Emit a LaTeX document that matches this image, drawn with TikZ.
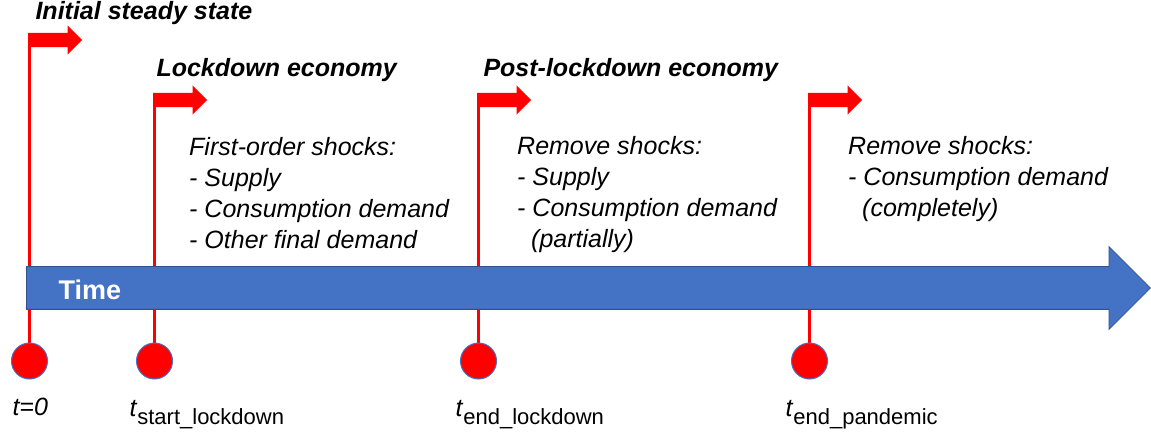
\documentclass[tikz,border=0pt]{standalone}
\usepackage{fontspec}
\setmainfont{Liberation Sans}
\usetikzlibrary{shapes.arrows,backgrounds}

\definecolor{timeblue}{HTML}{4472C4}
\definecolor{timeedge}{HTML}{2F528F}

\newcommand\tsub[1]{\textit{t}\raisebox{-8pt}{\fontsize{22}{22}\selectfont #1}}

\begin{document}
\begin{tikzpicture}[x=1pt,y=-1pt,font=\fontsize{25}{31}\selectfont]
  \useasboundingbox (0,0) rectangle (1151,438);

  % time axis
  \node[single arrow, fill=timeblue, draw=timeedge, line width=0.8pt,
        inner xsep=0pt, inner ysep=21pt, single arrow head extend=20pt,
        minimum height=1124pt, anchor=tail] (axis) at (26,288) {};
  \node[anchor=base west, text=white, font=\fontsize{27}{27}\selectfont\bfseries]
        (time) at (55,299) {Time};

  \begin{scope}[every node/.style={circle,fill=red,draw=timeblue,line width=1pt,
                                   minimum size=36pt,inner sep=0pt}]
    \node (t0) at (29.5,361) {};
    \node (t1) at (154.5,361) {};
    \node (t2) at (478.5,361) {};
    \node (t3) at (809.5,361) {};
  \end{scope}

  \begin{scope}[every node/.style={single arrow,fill=red,inner xsep=0pt,inner ysep=7pt,
                                   single arrow head extend=7.5pt,minimum height=54pt,
                                   anchor=tail}]
    \node (f0) at (28,40)  {};
    \node (f1) at (153,100) {};
    \node (f2) at (477,100) {};
    \node (f3) at (808,100) {};
  \end{scope}

  \begin{scope}[on background layer]
    \foreach \i in {0,...,3}
      \draw[red, line width=3pt] (t\i) -- (t\i |- f\i.tail);
  \end{scope}

  \begin{scope}[every node/.style={anchor=base west,font=\fontsize{25}{31}\selectfont\bfseries\itshape}]
    \node (steady)   at (32,19.5) {Initial steady state};
    \node (lockdown) at (153,77) {Lockdown economy};
    \node (post)     at (480,77) {Post-lockdown economy};
  \end{scope}

  \begin{scope}[every node/.style={anchor=north west,align=left,inner sep=0pt,
                                   font=\fontsize{25}{31}\selectfont\itshape}]
    \node (shocks1) at (189,137) {First-order shocks:\\- Supply\\- Consumption demand\\- Other final demand};
    \node (shocks2) at (517,136) {Remove shocks:\\- Supply\\- Consumption demand\\\hspace*{14pt}(partially)};
    \node (shocks3) at (848,136) {Remove shocks:\\- Consumption demand\\\hspace*{14pt}(completely)};
  \end{scope}

  \begin{scope}[every node/.style={anchor=base west}]
    \node (l0) at (9,415)   {\textit{t=0}};
    \node (l1) at (126,416) {\tsub{start\_lockdown}};
    \node (l2) at (452,416) {\tsub{end\_lockdown}};
    \node (l3) at (782,416) {\tsub{end\_pandemic}};
  \end{scope}

\end{tikzpicture}
\end{document}
